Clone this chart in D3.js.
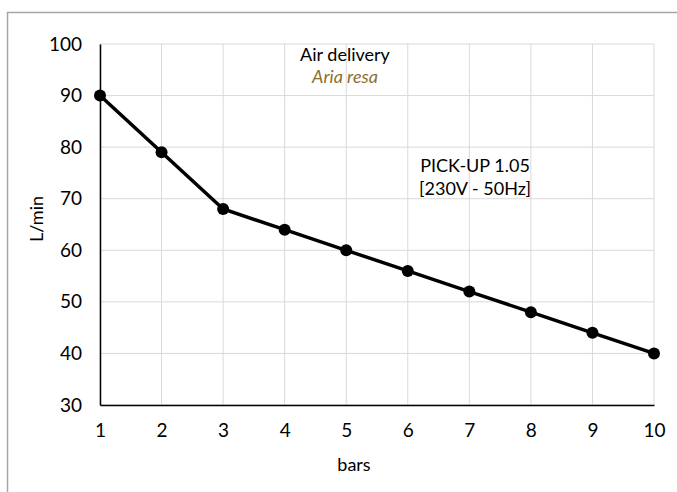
<!DOCTYPE html>
<html><head><meta charset="utf-8">
<script src="https://cdnjs.cloudflare.com/ajax/libs/d3/7.8.5/d3.min.js"></script>
<style>html,body{margin:0;padding:0;background:#fff;}svg{display:block;font-family:Lato,"Noto Sans",sans-serif;}</style>
</head><body>
<script>
const pressures = [1,2,3,4,5,6,7,8,9,10];
const flow = [90,79,68,64,60,56,52,48,44,40];
const yTicks = [30,40,50,60,70,80,90,100];
const xTicks = [1,2,3,4,5,6,7,8,9,10];
const W = 677, H = 492;
const m = {left:100, right:W-654, top:44, bottom:H-405};
const svg = d3.select("body").append("svg").attr("width",W).attr("height",H);
svg.append("path").attr("d","M7.5,"+H+" V12.5 H"+W).attr("fill","none").attr("stroke","#a6a6a6").attr("stroke-width",1.5);
const x = d3.scaleLinear().domain([1,10]).range([m.left, W-m.right]);
const y = d3.scaleLinear().domain([30,100]).range([H-m.bottom, m.top]);
const g = svg.append("g");
g.selectAll(".hg").data(yTicks).join("line").attr("x1",x(1)).attr("x2",x(10)).attr("y1",d=>y(d)).attr("y2",d=>y(d)).attr("stroke","#d9d9d9").attr("stroke-width",1);
g.selectAll(".vg").data(xTicks).join("line").attr("y1",y(30)).attr("y2",y(100)).attr("x1",d=>x(d)).attr("x2",d=>x(d)).attr("stroke","#d9d9d9").attr("stroke-width",1);
const yAxis = d3.axisLeft(y).tickValues(yTicks).tickSize(0).tickPadding(18);
const ya = svg.append("g").attr("transform",`translate(${x(1)},0)`).call(yAxis);
ya.attr("font-family",null).attr("font-size",null);
ya.select(".domain").attr("stroke","#000").attr("stroke-width",1.5);
ya.selectAll("text").attr("font-size",19).attr("fill","#000").attr("font-family","Lato");
const xAxis = d3.axisBottom(x).tickValues(xTicks).tickSize(0).tickPadding(19);
const xa = svg.append("g").attr("transform",`translate(0,${y(30)})`).call(xAxis);
xa.attr("font-family",null).attr("font-size",null);
xa.select(".domain").attr("stroke","#000").attr("stroke-width",1.5);
xa.selectAll("text").attr("font-size",19).attr("fill","#000").attr("font-family","Lato");
const line = d3.line().x((d,i)=>x(pressures[i])).y(d=>y(d));
svg.append("path").datum(flow).attr("d",line).attr("fill","none").attr("stroke","#000").attr("stroke-width",3.5);
svg.selectAll(".pt").data(flow).join("circle").attr("cx",(d,i)=>x(pressures[i])).attr("cy",d=>y(d)).attr("r",6).attr("fill","#000");
svg.append("text").attr("x",354).attr("y",471).attr("text-anchor","middle").attr("font-size",18).text("bars");
svg.append("text").attr("transform","translate(43,219) rotate(-90)").attr("text-anchor","middle").attr("font-size",18).text("L/min");
svg.append("text").attr("x",345).attr("y",61).attr("text-anchor","middle").attr("font-size",18).text("Air delivery");
svg.append("text").attr("x",345).attr("y",83).attr("text-anchor","middle").attr("font-size",18).attr("font-style","italic").attr("fill","#8b6f2e").text("Aria resa");
svg.append("text").attr("x",475).attr("y",172).attr("text-anchor","middle").attr("font-size",18).text("PICK-UP 1.05");
svg.append("text").attr("x",475).attr("y",195).attr("text-anchor","middle").attr("font-size",18).text("[230V - 50Hz]");
</script>
</body></html>
